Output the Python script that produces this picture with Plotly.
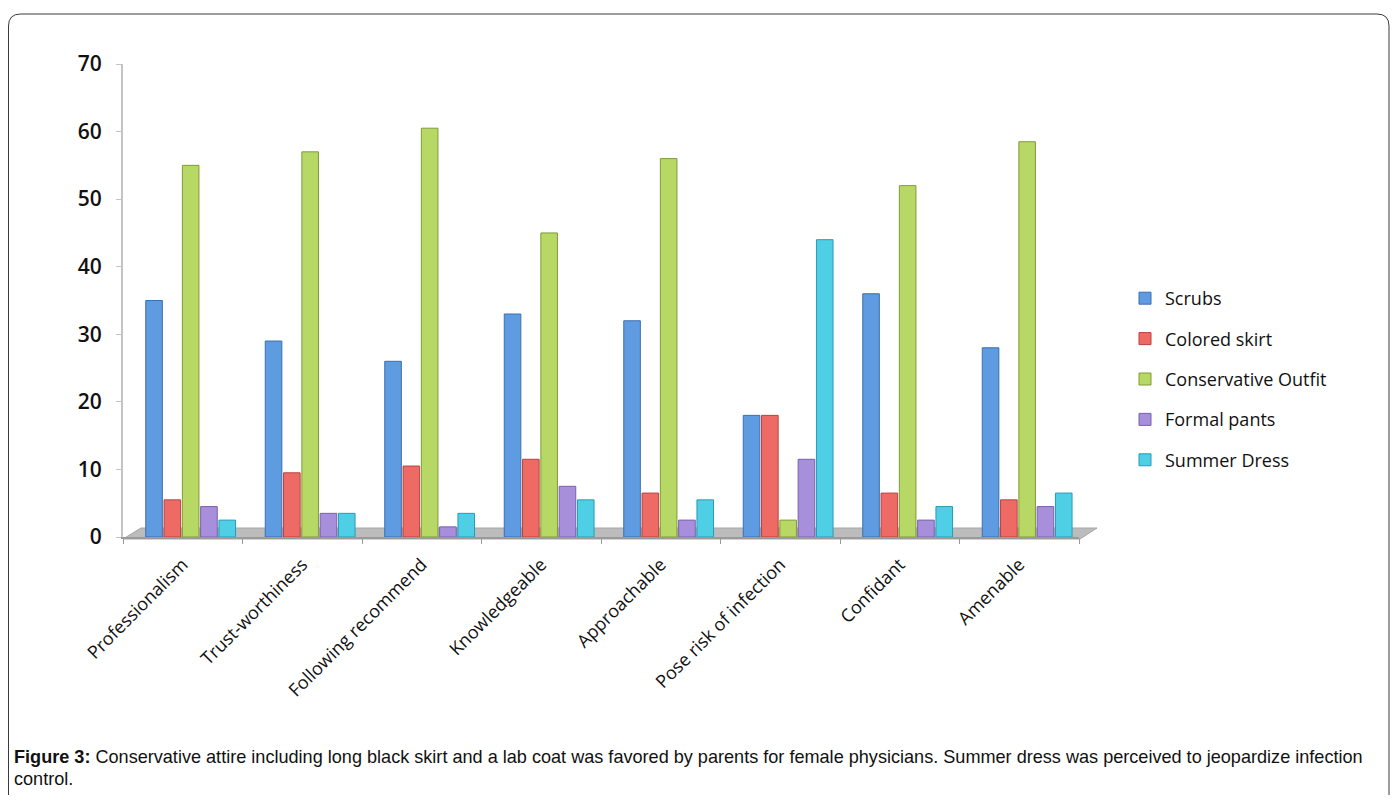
import plotly.graph_objects as go

categories = ["Professionalism", "Trust-worthiness", "Following recommend", "Knowledgeable",
              "Approachable", "Pose risk of infection", "Confidant", "Amenable"]
series_names = ["Scrubs", "Colored skirt", "Conservative Outfit", "Formal pants", "Summer Dress"]
scrubs = [35, 29, 26, 33, 32, 18, 36, 28]
colored_skirt = [5.5, 9.5, 10.5, 11.5, 6.5, 18, 6.5, 5.5]
conservative_outfit = [55, 57, 60.5, 45, 56, 2.5, 52, 58.5]
formal_pants = [4.5, 3.5, 1.5, 7.5, 2.5, 11.5, 2.5, 4.5]
summer_dress = [2.5, 3.5, 3.5, 5.5, 5.5, 44, 4.5, 6.5]
y_ticks = [0, 10, 20, 30, 40, 50, 60, 70]

series_values = [scrubs, colored_skirt, conservative_outfit, formal_pants, summer_dress]
fills = ["#5f9be0", "#ee6b65", "#b7d864", "#a88fdc", "#4fcfe6"]
edges = ["#3b6fb0", "#b8423d", "#7f9c38", "#7760ad", "#2a9ab3"]

# the page has an 8px body margin; layout targets are given in page pixels
OFF = 8
W, H = 1398 - 2 * OFF, 803 - 2 * OFF
L, R, T, B = 123, 1079, 64, 537   # plot area in page pixels
CAT_PX = (R - L) / len(categories)

def px(x):
    return (x - L) / (R - L)

def py(y):
    return (B - y) / (B - T)

BAR_W = 16.6 / CAT_PX
PITCH = 18.3 / CAT_PX
START = -37 / CAT_PX   # 3D look: group sits a little right of the category centre

fig = go.Figure()
for i, (name, vals) in enumerate(zip(series_names, series_values)):
    fig.add_trace(go.Bar(
        x=categories, y=vals, name=name, legendgroup=name,
        width=BAR_W, offset=START + i * PITCH,
        marker=dict(color=fills[i], line=dict(color=edges[i], width=1)),
    ))

shapes = []
# floor
shapes.append(dict(
    type="path", xref="paper", yref="paper", layer="below",
    path=(f"M {px(123)},{py(539)} L {px(141)},{py(528)} L {px(1097)},{py(528)} "
          f"L {px(1080)},{py(539)} Z"),
    fillcolor="#bcbcbc", line=dict(color="#a6a6a6", width=1),
))
# rounded border frame
x0, x1, y0, y1, r = 8.5, 1389, 14, 830, 12
shapes.append(dict(
    type="path", xref="paper", yref="paper", layer="below",
    path=(f"M {px(x0)},{py(y1)} L {px(x0)},{py(y0 + r)} "
          f"Q {px(x0)},{py(y0)} {px(x0 + r)},{py(y0)} "
          f"L {px(x1 - r)},{py(y0)} Q {px(x1)},{py(y0)} {px(x1)},{py(y0 + r)} "
          f"L {px(x1)},{py(y1)}"),
    line=dict(color="#3a3a3a", width=1),
))

cap_font = dict(family="Liberation Sans, Arial", size=18.1, color="#111111")
annotations = [
    dict(xref="paper", yref="paper", x=px(12), y=py(757), xanchor="left", yanchor="middle",
         showarrow=False, align="left",
         text="<b>Figure 3:</b> Conservative attire including long black skirt and a lab coat was favored by parents for female physicians. Summer dress was perceived to jeopardize infection",
         font=cap_font),
    dict(xref="paper", yref="paper", x=px(12), y=py(779), xanchor="left", yanchor="middle",
         showarrow=False, align="left", text="control.", font=cap_font),
]

fig.update_layout(
    width=W, height=H,
    margin=dict(l=L - OFF, r=W - (R - OFF), t=T - OFF, b=H - (B - OFF), pad=0),
    paper_bgcolor="white", plot_bgcolor="white",
    barmode="group",
    shapes=shapes, annotations=annotations,
    showlegend=True,
    legend=dict(x=px(1125), y=py(280), xanchor="left", yanchor="top",
                font=dict(family="Open Sans", size=18, color="#111111"),
                tracegroupgap=14, itemwidth=30, bgcolor="rgba(0,0,0,0)"),
    xaxis=dict(
        type="category", range=[-0.5, 7.5],
        showline=True, linecolor="#9a9a9a", linewidth=2,
        ticks="outside", tickson="boundaries", ticklen=5, tickcolor="#9a9a9a",
        tickangle=-45, showgrid=False, zeroline=False, ticklabelstandoff=8,
        tickfont=dict(family="Open Sans", size=18, color="#111111"),
    ),
    yaxis=dict(
        range=[0, 70], tickvals=y_ticks, ticktext=[str(v) for v in y_ticks],
        showline=True, linecolor="#c4c4c4", linewidth=2,
        ticks="outside", ticklen=5, tickcolor="#c4c4c4",
        showgrid=False, zeroline=False, ticklabelstandoff=10,
        tickfont=dict(family="Open Sans", size=21, color="#111111", weight=600),
    ),
)

fig.write_html("out.html")
